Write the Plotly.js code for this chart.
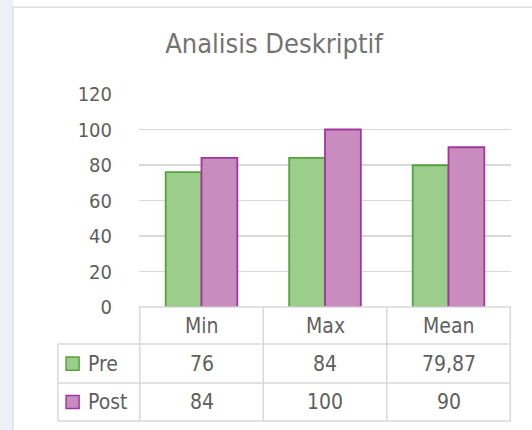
<!DOCTYPE html>
<html>
<head>
<meta charset="utf-8">
<script src="https://cdn.plot.ly/plotly-3.0.1.min.js"></script>
<style>html,body{margin:0;padding:0;background:#fff}#chart{width:532px;height:430px}</style>
</head>
<body>
<div id="chart"></div>
<script>
const categories = ["Min", "Max", "Mean"];
const seriesNames = ["Pre", "Post"];
const preValues = [76, 84, 79.87];
const postValues = [84, 100, 90];
const yTicks = [0, 20, 40, 60, 80, 100, 120];

const FONT = "DejaVu Sans Condensed, DejaVu Sans, sans-serif";
const TXT = "#5f5f5f";
const GRID = "#d9d9d9";
const fmt = v => String(v).replace(".", ",");

const greenFill = "#9bcd8b", greenLine = "#55a33c";
const purpleFill = "#c88dbe", purpleLine = "#a3369c";

const traces = [
  {type: "bar", name: seriesNames[0], x: categories, y: preValues,
   marker: {color: greenFill, line: {color: greenLine, width: 1.8}}},
  {type: "bar", name: seriesNames[1], x: categories, y: postValues,
   marker: {color: purpleFill, line: {color: purpleLine, width: 1.8}}}
];

// table geometry in paper units
const yHeadTop = 0, yHeadBot = -0.174, yPreBot = -0.357, yPostBot = -0.535;
const xTabLeft = -0.218;
const shapes = [];
const annotations = [];

// outer frame and side strip
shapes.push({type: "rect", xref: "paper", yref: "paper", x0: -0.40, x1: -0.339, y0: -0.7, y1: 1.5,
  fillcolor: "#eef0f6", line: {width: 0}, layer: "below"});
shapes.push({type: "rect", xref: "paper", yref: "paper", x0: -0.339, x1: 1.08, y0: -0.7, y1: 1.408,
  fillcolor: "rgba(0,0,0,0)", line: {color: "#d9d9d9", width: 1.3}, layer: "below"});

// horizontal lines
const hl = (x0, x1, y) => shapes.push({type: "line", xref: "paper", yref: "paper", x0, x1, y0: y, y1: y,
  line: {color: GRID, width: 1.5}});
hl(0, 1, yHeadTop);
hl(xTabLeft, 1, yHeadBot);
hl(xTabLeft, 1, yPreBot);
hl(xTabLeft, 1, yPostBot);
// vertical lines
const vl = (x, y0, y1, xref) => shapes.push({type: "line", xref, yref: "paper", x0: x, x1: x, y0, y1,
  line: {color: GRID, width: 1.5}});
vl(xTabLeft, yHeadBot, yPostBot, "paper");
for (let i = 0; i <= categories.length; i++) vl(i - 0.5, yHeadTop, yPostBot, "x");

// header texts
const rowCenters = [(yHeadBot + yPreBot) / 2, (yPreBot + yPostBot) / 2];
categories.forEach((c, i) => {
  annotations.push({xref: "x", yref: "paper", x: c, y: (yHeadTop + yHeadBot) / 2, text: c,
    showarrow: false, xanchor: "center", yanchor: "middle", font: {family: FONT, size: 21, color: TXT}});
});
const allSeries = [preValues, postValues];
const fills = [[greenFill, greenLine], [purpleFill, purpleLine]];
seriesNames.forEach((s, r) => {
  const yc = rowCenters[r];
  annotations.push({xref: "paper", yref: "paper", x: -0.143, y: yc, text: s, showarrow: false,
    xanchor: "left", yanchor: "middle", font: {family: FONT, size: 21, color: TXT}});
  shapes.push({type: "rect", xref: "paper", yref: "paper", x0: -0.196, x1: -0.161,
    y0: yc - 0.031, y1: yc + 0.031, fillcolor: fills[r][0], line: {color: fills[r][1], width: 1.5}});
  allSeries[r].forEach((v, i) => {
    annotations.push({xref: "x", yref: "paper", x: categories[i], y: yc, text: fmt(v), showarrow: false,
      xanchor: "center", yanchor: "middle", font: {family: FONT, size: 21, color: TXT}});
  });
});

const layout = {
  width: 532, height: 430,
  margin: {l: 139, r: 21, t: 94, b: 123},
  paper_bgcolor: "#ffffff", plot_bgcolor: "#ffffff",
  title: {text: "Analisis Deskriptif", x: 0.515, xref: "container", xanchor: "center", y: 0.921, yref: "container",
    font: {family: FONT, size: 27, color: "#737373"}},
  showlegend: false,
  bargap: 0.42, bargroupgap: 0,
  barmode: "group",
  xaxis: {showticklabels: false, showgrid: false, zeroline: false, showline: false, ticks: ""},
  yaxis: {range: [0, 120], tickvals: yTicks, ticktext: yTicks.map(String),
    showgrid: true, gridcolor: GRID, gridwidth: 1.5, zeroline: false, showline: false,
    ticks: "outside", ticklen: 22, tickcolor: "rgba(0,0,0,0)",
    tickfont: {family: FONT, size: 20, color: TXT}},
  shapes, annotations
};

Plotly.newPlot("chart", traces, layout, {displayModeBar: false, staticPlot: true});
</script>
</body>
</html>
